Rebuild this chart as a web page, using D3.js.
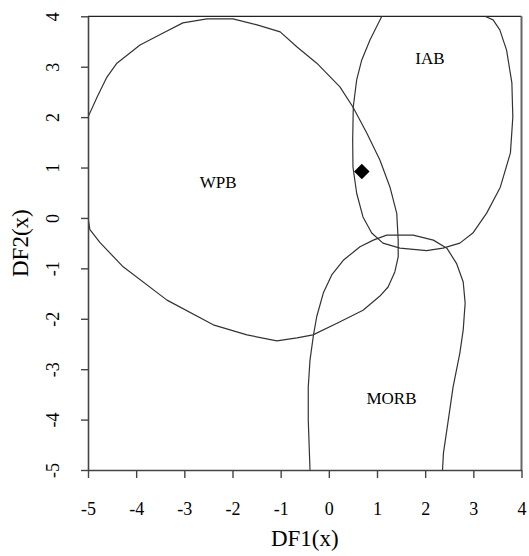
<!DOCTYPE html>
<html>
<head>
<meta charset="utf-8">
<script src="https://cdn.jsdelivr.net/npm/d3@7"></script>
<style>
  html, body { margin: 0; padding: 0; background: #fff; }
  svg { display: block; }
  text { font-family: "Liberation Serif", "Times New Roman", serif; fill: #000; }
</style>
</head>
<body>
<svg id="chart" width="529" height="556"></svg>
<script>
// ---- data ----
const xTicks = [-5, -4, -3, -2, -1, 0, 1, 2, 3, 4];
const yTicks = [-5, -4, -3, -2, -1, 0, 1, 2, 3, 4];

const wpbField = [
  [-5.00, 2.00], [-4.81, 2.40], [-4.61, 2.79], [-4.40, 3.07], [-3.92, 3.43],
  [-3.44, 3.67], [-3.03, 3.87], [-2.53, 3.95], [-1.99, 3.95], [-1.49, 3.83],
  [-1.01, 3.69], [-0.66, 3.39], [-0.25, 3.07], [0.23, 2.60], [0.50, 2.20],
  [0.79, 1.68], [1.06, 1.15], [1.27, 0.61], [1.41, 0.09],
  [1.44, -0.44], [1.44, -0.77], [1.37, -1.07], [1.23, -1.37],
  [1.06, -1.55], [0.71, -1.83], [0.17, -2.09], [-0.33, -2.32], [-0.66, -2.38],
  [-1.08, -2.44], [-1.70, -2.32], [-2.40, -2.12], [-3.36, -1.63], [-4.27, -0.97],
  [-4.75, -0.49], [-4.96, -0.23], [-5.00, 0.00]
];

const iabField = [
  [1.10, 4.00], [0.854, 3.53], [0.682, 3.13], [0.578, 2.74], [0.508, 2.21],
  [0.495, 1.55], [0.501, 1.01], [0.578, 0.49], [0.709, 0.02], [0.89, -0.30],
  [1.124, -0.50], [1.477, -0.60], [2.03, -0.65], [2.37, -0.60], [2.72, -0.50],
  [2.99, -0.30], [3.28, 0.10], [3.56, 0.61], [3.77, 1.29], [3.82, 2.00],
  [3.80, 2.68], [3.69, 3.33], [3.55, 3.73], [3.41, 3.93], [3.24, 4.00]
];

const morbField = [
  [-0.391, -5.0], [-0.427, -4.01], [-0.427, -3.35], [-0.391, -2.82], [-0.32, -2.33],
  [-0.252, -1.96], [-0.115, -1.49], [0.06, -1.13], [0.30, -0.84], [0.647, -0.57],
  [0.923, -0.44], [1.20, -0.34], [1.75, -0.34], [2.17, -0.44], [2.45, -0.60],
  [2.65, -0.90], [2.79, -1.27], [2.83, -1.69], [2.79, -2.22], [2.72, -2.68],
  [2.58, -3.35], [2.48, -4.01], [2.38, -4.66], [2.36, -5.0]
];

const fieldLabels = ["WPB", "IAB", "MORB"];
const fieldLabelPos = [[-2.3, 0.6], [2.1, 3.05], [1.3, -3.7]];

const samplePoint = [[0.685, 0.92]];

// ---- layout ----
const svg = d3.select("#chart");
const mLeft = 88, mRight = 521.5, mTop = 16.3, mBottom = 470;

const x = d3.scaleLinear().domain([-5, 4]).range([mLeft, mRight]);
const y = d3.scaleLinear().domain([-5, 4]).range([mBottom, mTop]);

svg.append("defs").append("clipPath").attr("id", "plotClip")
  .append("rect").attr("x", mLeft).attr("y", mTop)
  .attr("width", mRight - mLeft).attr("height", mBottom - mTop);

// frame top & right
svg.append("line").attr("x1", mLeft).attr("x2", mRight).attr("y1", mTop).attr("y2", mTop)
  .attr("stroke", "#222").attr("stroke-width", 1.2);
svg.append("line").attr("x1", mRight).attr("x2", mRight).attr("y1", mTop).attr("y2", mBottom)
  .attr("stroke", "#666").attr("stroke-width", 2);

// curves
const line = d3.line().x(d => x(d[0])).y(d => y(d[1])).curve(d3.curveLinear);
const g = svg.append("g").attr("clip-path", "url(#plotClip)");
[wpbField, iabField, morbField].forEach(f => {
  g.append("path").attr("d", line(f)).attr("fill", "none")
    .attr("stroke", "#333").attr("stroke-width", 1.2).attr("stroke-linejoin", "round");
});

// labels
fieldLabels.forEach((t, i) => {
  svg.append("text").attr("x", x(fieldLabelPos[i][0])).attr("y", y(fieldLabelPos[i][1]))
    .attr("text-anchor", "middle").attr("font-size", 17).text(t);
});

// sample diamond
svg.selectAll(".pt").data(samplePoint).enter().append("path")
  .attr("class", "pt")
  .attr("d", d3.symbol().type(d3.symbolSquare).size(120))
  .attr("transform", d => `translate(${x(d[0])},${y(d[1])}) rotate(45)`)
  .attr("fill", "#000");

const fmt = d => String(d);

// x axis
const xAxis = svg.append("g").attr("transform", `translate(0,${mBottom})`)
  .call(d3.axisBottom(x).tickValues(xTicks).tickSize(8).tickSizeOuter(0).tickFormat(fmt));
xAxis.select(".domain").attr("stroke", "#444").attr("stroke-width", 1.6);
xAxis.selectAll(".tick line").attr("stroke", "#444").attr("stroke-width", 1.4);
xAxis.selectAll(".tick text").attr("y", 45).attr("dy", 0)
  .attr("font-family", "Liberation Serif").attr("font-size", 18).attr("fill", "#000");

// y axis
const yAxis = svg.append("g").attr("transform", `translate(${mLeft},0)`)
  .call(d3.axisLeft(y).tickValues(yTicks).tickSize(7).tickSizeOuter(0).tickFormat(fmt));
yAxis.select(".domain").attr("stroke", "#444").attr("stroke-width", 1.6);
yAxis.selectAll(".tick line").attr("stroke", "#444").attr("stroke-width", 1.4);
yAxis.selectAll(".tick text")
  .attr("transform", "rotate(-90)")
  .attr("x", 0).attr("y", -29).attr("dy", 0)
  .attr("text-anchor", "middle")
  .attr("font-family", "Liberation Serif").attr("font-size", 18).attr("fill", "#000");

// axis titles
svg.append("text").attr("x", (mLeft + mRight) / 2).attr("y", 546)
  .attr("text-anchor", "middle").attr("font-size", 23).text("DF1(x)");
svg.append("text").attr("transform", `translate(28,${(mTop + mBottom) / 2}) rotate(-90)`)
  .attr("text-anchor", "middle").attr("font-size", 23).text("DF2(x)");
</script>
</body>
</html>
